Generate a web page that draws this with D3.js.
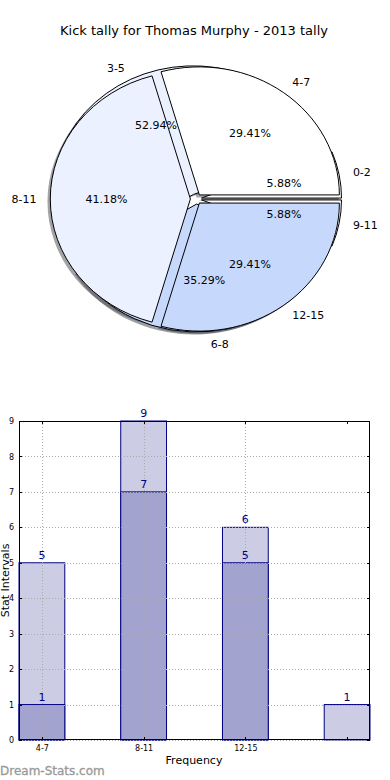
<!DOCTYPE html>
<html>
<head>
<meta charset="utf-8">
<script src="https://cdn.jsdelivr.net/npm/d3@7"></script>
<style>
  html, body { margin: 0; padding: 0; background: #fff; }
  svg { display: block; font-family: "DejaVu Sans", sans-serif; }
</style>
</head>
<body>
<svg id="chart" width="390" height="780"></svg>
<script>
// ---------- DATA ----------
const title = "Kick tally for Thomas Murphy - 2013 tally";

const pieALabels = ["0-2", "3-5", "6-8", "9-11"];
const pieAValues = [1, 9, 6, 1];
const pieAColors = ["#ffffff", "#ebf1fe", "#c6d9fd", "#ffffff"];

const pieBLabels = ["4-7", "8-11", "12-15"];
const pieBValues = [5, 7, 5];
const pieBColors = ["#ffffff", "#ebf1fe", "#c6d9fd"];

const barCategories = ["4-7", "8-11", "12-15", ""];
const barLight = [5, 9, 6, 1];
const barDark = [1, 7, 5, 0];
const yTicks = [0, 1, 2, 3, 4, 5, 6, 7, 8, 9];

// ---------- SETUP ----------
const svg = d3.select("#chart");

svg.append("text")
  .attr("x", 194).attr("y", 35)
  .attr("text-anchor", "middle")
  .attr("font-size", 13)
  .attr("fill", "#000")
  .text(title);

// ---------- PIE ----------
const cx = 196, cy = 199, rx = 140, ry = 128, explode = 0.04;
const pieGen = d3.pie().sort(null).startAngle(Math.PI / 2).endAngle(Math.PI / 2 - 2 * Math.PI);
const arcGen = d3.arc().innerRadius(0).outerRadius(1);

function buildPie(labels, values, colors) {
  const total = d3.sum(values);
  return pieGen(values).map((d, i) => {
    const am = (d.startAngle + d.endAngle) / 2;
    const th = Math.PI / 2 - am;
    const ox = explode * rx * Math.cos(th);
    const oy = -explode * ry * Math.sin(th);
    return { d, th, ox, oy, label: labels[i], color: colors[i], pct: (values[i] / total * 100).toFixed(2) + "%" };
  });
}
const pieA = buildPie(pieALabels, pieAValues, pieAColors);
const pieB = buildPie(pieBLabels, pieBValues, pieBColors);
const allWedges = pieA.concat(pieB);

const gPie = svg.append("g");

function darken(c) {
  const r = d3.rgb(c);
  return d3.rgb(r.r * 0.3, r.g * 0.3, r.b * 0.3).toString();
}

gPie.selectAll("path.shadow").data(allWedges).enter().append("path")
  .attr("class", "shadow")
  .attr("d", w => arcGen(w.d))
  .attr("transform", w => `translate(${cx + w.ox - 0.02 * rx},${cy + w.oy + 0.02 * ry}) scale(${rx},${ry})`)
  .attr("fill", w => darken(w.color))
  .attr("fill-opacity", 0.5)
  .attr("stroke", "none");

[pieA, pieB].forEach((p, k) => {
  gPie.selectAll("path.w" + k).data(p).enter().append("path")
    .attr("class", "w" + k)
    .attr("d", w => arcGen(w.d))
    .attr("transform", w => `translate(${cx + w.ox},${cy + w.oy}) scale(${rx},${ry})`)
    .attr("fill", w => w.color)
    .attr("stroke", "#000")
    .attr("stroke-width", 1)
    .attr("vector-effect", "non-scaling-stroke")
    .attr("stroke-linejoin", "miter");
});

allWedges.forEach(w => {
  const xt = cx + w.ox + 1.1 * rx * Math.cos(w.th);
  const yt = cy + w.oy - 1.1 * ry * Math.sin(w.th);
  gPie.append("text")
    .attr("x", xt).attr("y", yt)
    .attr("text-anchor", xt > cx ? "start" : "end")
    .attr("dominant-baseline", "central")
    .attr("font-size", 11)
    .attr("fill", "#000")
    .text(w.label);
  const xp = cx + w.ox + 0.6 * rx * Math.cos(w.th);
  const yp = cy + w.oy - 0.6 * ry * Math.sin(w.th);
  gPie.append("text")
    .attr("x", xp).attr("y", yp)
    .attr("text-anchor", "middle")
    .attr("dominant-baseline", "central")
    .attr("font-size", 11)
    .attr("fill", "#000")
    .text(w.pct);
});

// ---------- BAR CHART ----------
const bLeft = 19, bRight = 370, bTop = 421, bBottom = 740;
const bw = 0.45;
const x = d3.scaleLinear().domain([-bw / 2, barCategories.length - 1 + bw / 2]).range([bLeft, bRight]);
const y = d3.scaleLinear().domain([0, 9]).range([bBottom, bTop]);

const gBar = svg.append("g");
const idx = d3.range(barCategories.length);

gBar.selectAll("rect.light").data(idx.filter(i => barLight[i] > 0)).enter().append("rect")
  .attr("x", i => x(i - bw / 2)).attr("width", i => x(i + bw / 2) - x(i - bw / 2))
  .attr("y", i => y(barLight[i])).attr("height", i => y(0) - y(barLight[i]))
  .attr("fill", "#cccce4").attr("stroke", "#000080").attr("stroke-width", 1);

gBar.selectAll("rect.dark").data(idx.filter(i => barDark[i] > 0)).enter().append("rect")
  .attr("x", i => x(i - bw / 2)).attr("width", i => x(i + bw / 2) - x(i - bw / 2))
  .attr("y", i => y(barDark[i])).attr("height", i => y(0) - y(barDark[i]))
  .attr("fill", "#a3a3d0").attr("stroke", "#000080").attr("stroke-width", 1);

const grid = gBar.append("g").attr("stroke", "#aaaaaa").attr("stroke-width", 1).attr("stroke-dasharray", "1,2");
yTicks.forEach(t => {
  grid.append("line").attr("x1", bLeft).attr("x2", bRight).attr("y1", Math.round(y(t)) + 0.5).attr("y2", Math.round(y(t)) + 0.5);
});
idx.slice(0, 3).forEach(i => {
  grid.append("line").attr("x1", Math.round(x(i)) + 0.5).attr("x2", Math.round(x(i)) + 0.5).attr("y1", bTop).attr("y2", bBottom);
});

function valueLabels(arr) {
  gBar.selectAll(null).data(idx.filter(i => arr[i] > 0)).enter().append("text")
    .attr("x", i => x(i)).attr("y", i => y(arr[i]) - 4)
    .attr("text-anchor", "middle")
    .attr("font-size", 11).attr("fill", "#000080")
    .text(i => arr[i]);
}
valueLabels(barLight);
valueLabels(barDark);

gBar.append("rect").attr("x", bLeft + 0.5).attr("y", bTop + 0.5)
  .attr("width", bRight - bLeft - 1).attr("height", bBottom - bTop - 1)
  .attr("fill", "none").attr("stroke", "#000").attr("stroke-width", 1);

const yAxis = d3.axisLeft(y).tickValues(yTicks).tickSize(0).tickPadding(5);
const gy = gBar.append("g").attr("transform", `translate(${bLeft},0)`).call(yAxis);
gy.select(".domain").remove();
gy.selectAll("text").attr("font-size", 8).attr("font-family", "DejaVu Sans").attr("fill", "#000");

const xAxis = d3.axisBottom(x).tickValues(idx).tickFormat(i => barCategories[i]).tickSize(0).tickPadding(5);
const gx = gBar.append("g").attr("transform", `translate(0,${bBottom})`).call(xAxis);
gx.select(".domain").remove();
gx.selectAll("text").attr("font-size", 8).attr("font-family", "DejaVu Sans").attr("fill", "#000");

const tk = gBar.append("g").attr("stroke", "#000").attr("stroke-width", 1);
yTicks.forEach(t => {
  const yy = Math.round(y(t)) + 0.5;
  tk.append("line").attr("x1", bLeft).attr("x2", bLeft + 3).attr("y1", yy).attr("y2", yy);
  tk.append("line").attr("x1", bRight - 3).attr("x2", bRight).attr("y1", yy).attr("y2", yy);
});
idx.forEach(i => {
  const xx = Math.round(x(i)) + 0.5;
  tk.append("line").attr("x1", xx).attr("x2", xx).attr("y1", bBottom - 3).attr("y2", bBottom);
  tk.append("line").attr("x1", xx).attr("x2", xx).attr("y1", bTop).attr("y2", bTop + 3);
});

gBar.append("text").attr("x", 194).attr("y", 764).attr("text-anchor", "middle")
  .attr("font-size", 11).attr("fill", "#000").text("Frequency");
gBar.append("text").attr("transform", `translate(9,${(bTop + bBottom) / 2}) rotate(-90)`)
  .attr("text-anchor", "middle").attr("font-size", 11).attr("fill", "#000").text("Stat Intervals");

svg.append("text").attr("x", 0).attr("y", 775).attr("font-size", 12).attr("font-weight", "normal")
  .attr("fill", "#999999").attr("stroke", "#999999").attr("stroke-width", 0.3).text("Dream-Stats.com");
</script>
</body>
</html>
